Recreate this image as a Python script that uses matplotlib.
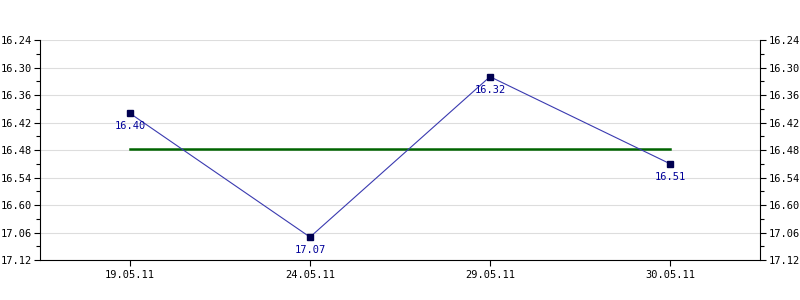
import numpy as np
import matplotlib
matplotlib.use('Agg')
import matplotlib.pyplot as plt
from matplotlib.ticker import FixedLocator

dates = ['19.05.11', '24.05.11', '29.05.11', '30.05.11']
prices = [16.40, 17.07, 16.32, 16.51]
avg_level = 16.478
y_ticks = [16.24, 16.30, 16.36, 16.42, 16.48, 16.54, 16.60, 17.06, 17.12]
y_labels = ['16.24', '16.30', '16.36', '16.42', '16.48', '16.54', '16.60', '17.06', '17.12']

plt.rcParams['font.family'] = 'DejaVu Sans Mono'
idx = np.arange(len(y_ticks))

def fwd(v):
    return np.interp(v, y_ticks, idx)

def inv(i):
    return np.interp(i, idx, y_ticks)

fig = plt.figure(figsize=(8, 3), dpi=100)
ax = fig.add_axes([0.05, 0.1333, 0.9, 0.7333])
ax.set_yscale('function', functions=(fwd, inv))

x = np.arange(len(dates))
ax.plot(x, prices, color='#3a3ab0', lw=0.8, zorder=3)
ax.plot(x, prices, ls='none', marker='s', ms=4, color='#000050', zorder=4)
ax.plot([x[0], x[-1]], [avg_level, avg_level], color='#006400', lw=1.8, zorder=2)
for xi, p in zip(x, prices):
    ax.annotate(f'{p:.2f}', (xi, p), xytext=(0, -13), textcoords='offset pixels',
                ha='center', va='center', fontsize=7.5, color='#000099', zorder=5)

ax.set_xlim(-0.5, len(dates) - 0.5)
ax.set_ylim(y_ticks[-1], y_ticks[0])
ax.set_xticks(x)
ax.set_xticklabels(dates)
ax.yaxis.set_major_locator(FixedLocator(y_ticks))
ax.set_yticklabels(y_labels)
mids = [inv(i + 0.5) for i in idx[:-1]]
ax.yaxis.set_minor_locator(FixedLocator(mids))
ax.grid(axis='y', which='major', color='#dddddd', lw=0.8)
ax.set_axisbelow(True)

ax.spines['top'].set_visible(False)
for s in ['left', 'right', 'bottom']:
    ax.spines[s].set_linewidth(0.8)
ax.tick_params(axis='y', which='both', left=True, right=True, labelleft=True, labelright=True,
               direction='out', labelsize=7.5, width=0.8, pad=2)
ax.tick_params(axis='y', which='major', length=4)
ax.tick_params(axis='y', which='minor', length=3)
ax.tick_params(axis='x', direction='out', length=4, labelsize=7.5, width=0.8, pad=3)

fig.savefig('out.png', dpi=100)
